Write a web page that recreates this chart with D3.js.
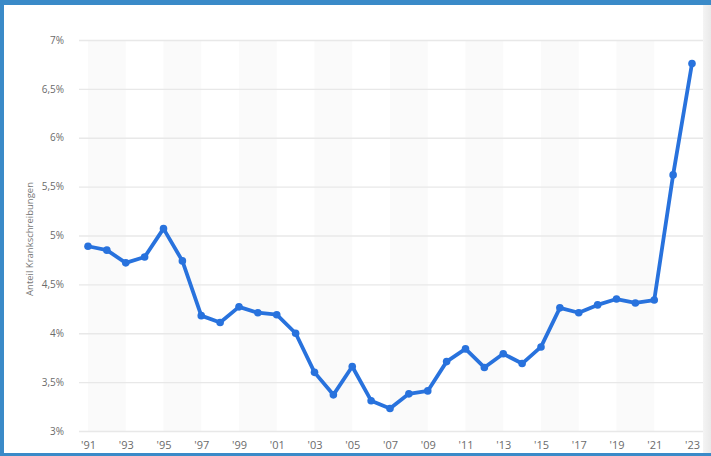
<!DOCTYPE html>
<html>
<head>
<meta charset="utf-8">
<script src="https://cdn.jsdelivr.net/npm/d3@7"></script>
<style>
  html, body { margin: 0; padding: 0; background: #3a8ac8; }
  svg { display: block; }
</style>
</head>
<body>
<script>
const years = d3.range(1991, 2024)
const shares = [4.89, 4.85, 4.72, 4.78, 5.07, 4.74, 4.18, 4.11, 4.27, 4.21,
                4.19, 4.00, 3.60, 3.37, 3.66, 3.31, 3.23, 3.38, 3.41, 3.71,
                3.84, 3.65, 3.79, 3.69, 3.86, 4.26, 4.21, 4.29, 4.35, 4.31,
                4.34, 5.62, 6.76]
const yTicks = [3, 3.5, 4, 4.5, 5, 5.5, 6, 6.5, 7]
const xTicks = d3.range(1991, 2024, 2)
const yTitle = "Anteil Krankschreibungen"

const w = 711
const h = 456
const dataset = years.map((y, i) => ({ year: y, value: shares[i] }))

const xScale = d3.scaleLinear().domain([1991, 2023]).range([88, 692])
const yScale = d3.scaleLinear().domain([3, 7]).range([431, 40])

const svg = d3.select("body")
              .append("svg")
              .attr("width", w)
              .attr("height", h)

// frame
svg.append("rect").attr("x", 0).attr("y", 0).attr("width", w).attr("height", h).attr("fill", "#3a8ac8")
svg.append("rect").attr("x", 4).attr("y", 5).attr("width", 699).attr("height", 448).attr("fill", "#ffffff")
const grad = svg.append("defs").append("linearGradient").attr("id", "edge")
grad.append("stop").attr("offset", "0%").attr("stop-color", "#f4f4f4")
grad.append("stop").attr("offset", "100%").attr("stop-color", "#e9e9e9")
svg.append("rect").attr("x", 703).attr("y", 5).attr("width", 8).attr("height", 448).attr("fill", "url(#edge)")

// alternating bands
svg.selectAll("rect.band")
   .data(xTicks.filter((d, i) => i % 2 === 0 && d < 2023))
   .enter()
   .append("rect")
   .attr("class", "band")
   .attr("x", (d) => xScale(d))
   .attr("y", yScale(7))
   .attr("width", (d) => xScale(d + 2) - xScale(d))
   .attr("height", yScale(3) - yScale(7))
   .attr("fill", "#fafafa")

// grid
const yAxis = d3.axisLeft(yScale)
                .tickValues(yTicks)
                .tickSize(-(703 - 79))
                .tickPadding(15)
                .tickFormat((d) => String(d).replace(".", ",") + "%")
const gy = svg.append("g")
              .attr("transform", "translate(79, 0)")
              .call(yAxis)
gy.select(".domain").remove()
gy.selectAll(".tick line").attr("stroke", "#e8e8e8").attr("stroke-width", 1.3)
gy.selectAll(".tick text")
  .attr("fill", "#6b6b6b")
  .style("font-family", "'Open Sans', sans-serif")
  .style("font-size", "10px")

const xAxis = d3.axisBottom(xScale)
                .tickValues(xTicks)
                .tickSize(0)
                .tickPadding(10)
                .tickFormat((d) => "'" + String(d).slice(2))
const gx = svg.append("g")
              .attr("transform", "translate(0, 431)")
              .call(xAxis)
gx.select(".domain").remove()
gx.selectAll(".tick text")
  .attr("fill", "#6b6b6b")
  .style("font-family", "'Open Sans', sans-serif")
  .style("font-size", "11px")

svg.append("text")
   .attr("transform", "translate(33, 239) rotate(-90)")
   .attr("text-anchor", "middle")
   .attr("fill", "#777")
   .style("font-family", "'Open Sans', sans-serif")
   .style("font-size", "9.5px")
   .text(yTitle)

// line
const line = d3.line()
               .x((d) => xScale(d.year))
               .y((d) => yScale(d.value))
svg.append("path")
   .datum(dataset)
   .attr("d", line)
   .attr("fill", "none")
   .attr("stroke", "#2872dd")
   .attr("stroke-width", 3.8)
   .attr("stroke-linejoin", "round")

svg.selectAll("circle")
   .data(dataset)
   .enter()
   .append("circle")
   .attr("cx", (d) => xScale(d.year))
   .attr("cy", (d) => yScale(d.value))
   .attr("r", 3.8)
   .attr("fill", "#2872dd")
</script>
</body>
</html>
